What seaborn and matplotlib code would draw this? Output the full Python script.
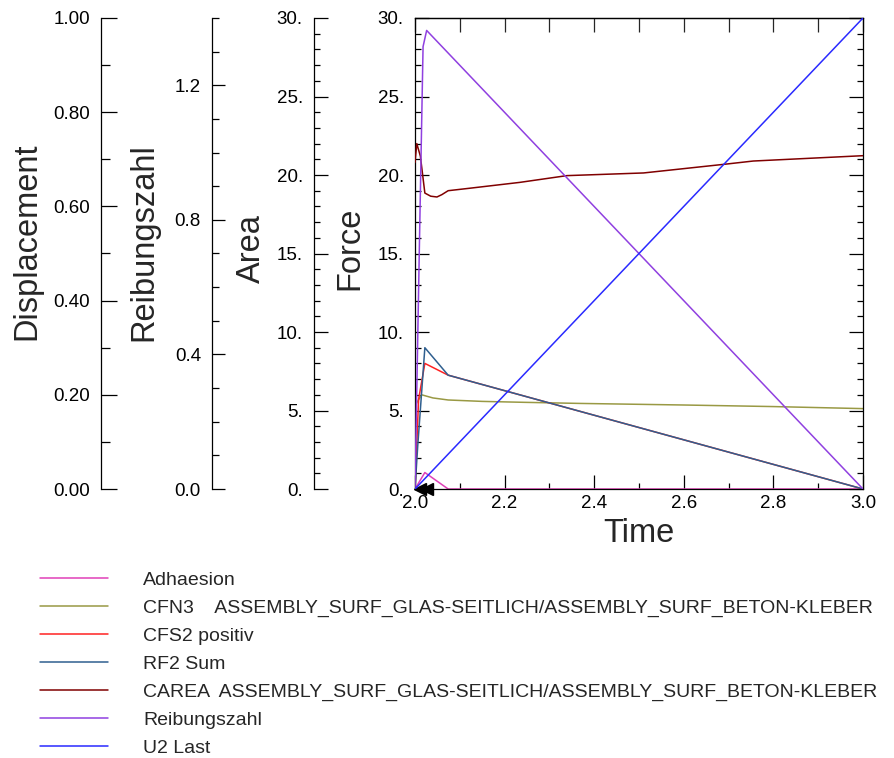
import matplotlib
matplotlib.use("Agg")
import matplotlib.pyplot as plt
from matplotlib.ticker import MultipleLocator, FuncFormatter
import seaborn as sns

# Curve data (time, value)
t_adh = [2.0, 2.022, 2.074, 3.0]
v_adh = [0.0, 1.05, 0.0, 0.0]

t_cfn3 = [2.0, 2.004, 2.015, 2.04, 2.074, 2.15, 2.245, 2.37, 2.6, 2.8, 3.0]
v_cfn3 = [5.2, 5.5, 6.0, 5.8, 5.67, 5.58, 5.52, 5.45, 5.35, 5.25, 5.12]

t_cfs2 = [2.0, 2.008, 2.022, 2.074, 3.0]
v_cfs2 = [0.0, 5.7, 8.0, 7.25, 0.0]

t_rf2 = [2.0, 2.006, 2.022, 2.074, 3.0]
v_rf2 = [0.0, 2.7, 9.0, 7.25, 0.0]

t_carea = [2.0, 2.004, 2.012, 2.022, 2.035, 2.049, 2.06, 2.074, 2.12,
           2.234, 2.339, 2.51, 2.696, 2.755, 3.0]
v_carea = [20.8, 22.0, 21.2, 18.85, 18.65, 18.6, 18.75, 19.0, 19.15,
           19.53, 19.96, 20.13, 20.7, 20.89, 21.23]

t_reib = [2.0, 2.011, 2.018, 2.026, 3.0]
v_reib = [0.0, 0.81, 1.315, 1.363, 0.0]

t_u2 = [2.0, 3.0]
v_u2 = [0.0, 1.0]

arrow_t = [2.012, 2.026]
arrow_v = [0.0, 0.0]

labels = [
    "Adhaesion",
    "CFN3    ASSEMBLY_SURF_GLAS-SEITLICH/ASSEMBLY_SURF_BETON-KLEBER",
    "CFS2 positiv",
    "RF2 Sum",
    "CAREA  ASSEMBLY_SURF_GLAS-SEITLICH/ASSEMBLY_SURF_BETON-KLEBER",
    "Reibungszahl",
    "U2 Last",
]
colors = ["#e040b8", "#999944", "#ff2222", "#2f5f8f", "#800000", "#9040e0", "#2a2aff"]

sns.set_style("white")
plt.rcParams['font.family'] = ['Liberation Sans', 'DejaVu Sans']

W, H = 895, 758
fig = plt.figure(figsize=(W / 100, H / 100), dpi=100)
ax = fig.add_axes([415 / W, 1 - 489 / H, 448 / W, 471 / H])

ax_area = ax.twinx()
ax_reib = ax.twinx()
ax_disp = ax.twinx()

LW = 1.1
handles = []

def draw(a, t, v, c):
    sns.lineplot(x=t, y=v, ax=a, color=c, lw=LW, legend=False)
    return a.get_lines()[-1]

handles.append(draw(ax, t_adh, v_adh, colors[0]))
handles.append(draw(ax, t_cfn3, v_cfn3, colors[1]))
handles.append(draw(ax, t_cfs2, v_cfs2, colors[2]))
handles.append(draw(ax, t_rf2, v_rf2, colors[3]))
handles.append(draw(ax_area, t_carea, v_carea, colors[4]))
handles.append(draw(ax_reib, t_reib, v_reib, colors[5]))
handles.append(draw(ax_disp, t_u2, v_u2, colors[6]))

ax.plot(arrow_t, arrow_v, ls="none", marker="<", color="black", ms=8, clip_on=False, zorder=5)

# main axis (Force)
ax.set_xlim(2.0, 3.0)
ax.set_ylim(0, 30)
ax.xaxis.set_major_locator(MultipleLocator(0.2))
ax.xaxis.set_minor_locator(MultipleLocator(0.1))
ax.yaxis.set_major_locator(MultipleLocator(5))
ax.yaxis.set_minor_locator(MultipleLocator(1))
ax.xaxis.set_major_formatter(FuncFormatter(lambda v, p: f"{v:.1f}"))
ax.yaxis.set_major_formatter(FuncFormatter(lambda v, p: f"{v:.0f}."))
for s in ax.spines.values():
    s.set_visible(True)
    s.set_color("black")
    s.set_linewidth(0.9)
ax.tick_params(which="both", direction="in", width=0.9, colors="black",
               left=True, right=True, bottom=True, top=False, labelsize=13.5)
ax.tick_params(which="major", length=10)
ax.tick_params(which="minor", length=4.5)
ax.tick_params(axis="y", pad=8)
ax.tick_params(axis="x", pad=4)
ax.set_xlabel("Time", fontsize=23.5, labelpad=5)
ax.set_ylabel("Force", fontsize=23.5, labelpad=9)
ax.yaxis.label.set_y(0.51)

top = ax.secondary_xaxis("top")
top.xaxis.set_major_locator(MultipleLocator(0.1))
top.tick_params(direction="in", length=10, width=0.9, labeltop=False)
top.spines["top"].set_linewidth(0.9)

def side_axis(a, offset_px, lo, hi, major, minor, fmt, label, maj_len, min_len, labelpad, ly):
    for s in a.spines.values():
        s.set_visible(False)
    sp = a.spines["left"]
    sp.set_visible(True)
    sp.set_position(("axes", -offset_px / 448))
    sp.set_color("black")
    sp.set_linewidth(0.9)
    a.yaxis.set_ticks_position("left")
    a.yaxis.set_label_position("left")
    a.set_ylim(lo, hi)
    a.yaxis.set_major_locator(MultipleLocator(major))
    a.yaxis.set_minor_locator(MultipleLocator(minor))
    a.yaxis.set_major_formatter(FuncFormatter(fmt))
    a.tick_params(axis="y", which="both", direction="in", width=0.9, colors="black",
                  labelsize=13.5, pad=8)
    a.tick_params(axis="y", which="major", length=maj_len)
    a.tick_params(axis="y", which="minor", length=min_len)
    a.set_ylabel(label, fontsize=23.5, labelpad=labelpad)
    a.yaxis.label.set_y(ly)

side_axis(ax_area, 101, 0, 30, 5, 1, lambda v, p: f"{v:.0f}.", "Area", 10, 4.5, 7, 0.51)
side_axis(ax_reib, 203, 0, 1.4, 0.4, 0.1, lambda v, p: f"{v:.1f}", "Reibungszahl", 9.5, 5, 11, 0.525)
side_axis(ax_disp, 314, 0, 1.0, 0.2, 0.1, lambda v, p: f"{v:.2f}", "Displacement", 11.5, 6.5, 8, 0.525)

fig.legend(handles, labels, loc="upper left", bbox_to_anchor=(40 / W, 1 - 571.5 / H),
           frameon=False, fontsize=14, handlelength=3.5, handletextpad=1.8,
           labelspacing=0.53, borderpad=0, borderaxespad=0)

fig.savefig("out.png", dpi=100)
